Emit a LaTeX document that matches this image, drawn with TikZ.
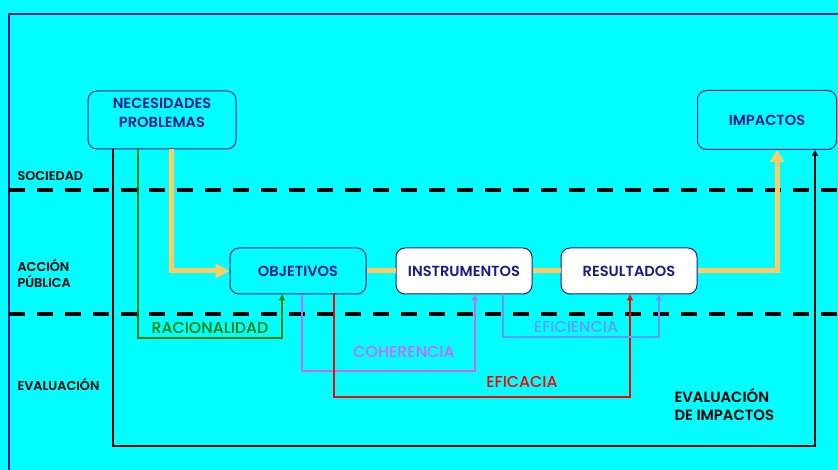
\documentclass[tikz,border=0pt]{standalone}
\usepackage{fontspec}
\setmainfont{Poppins}
\newfontfamily\medfont{Poppins Medium}
\newfontfamily\semifont{Poppins SemiBold}
\usetikzlibrary{arrows.meta,calc}
\definecolor{BackClr}{RGB}{0,255,255}
\definecolor{NavyClr}{RGB}{26,26,140}
\definecolor{FlowClr}{RGB}{255,204,102}
\definecolor{RacClr}{RGB}{0,125,0}
\definecolor{CohClr}{RGB}{204,102,255}
\definecolor{EfcClr}{RGB}{255,0,0}
\definecolor{EfiClr}{RGB}{102,153,255}

\begin{document}
\begin{tikzpicture}[x=1pt,y=-1pt,
  stage/.style={draw=NavyClr,line width=1pt,rounded corners=9pt,fill=BackClr,
    text=NavyClr,font=\semifont\fontsize{14.6}{19}\selectfont,align=center,
    minimum width=136pt,minimum height=46pt,inner sep=0pt},
  level/.style={font=\semifont\fontsize{12.8}{16}\selectfont,anchor=west,align=left},
  border/.style={draw=NavyClr,line width=1.2pt},
  limit/.style={line width=4pt,dash pattern=on 16pt off 12pt},
  flow/.style={draw=FlowClr,line width=5pt},
  loop/.style={line width=2.2pt,-{Triangle[width=6pt,length=6pt]}},
  tag/.style={font=\medfont\fontsize{15.8}{18}\selectfont}]
\useasboundingbox (0,0) rectangle (838,470);
\fill[BackClr] (0,0) rectangle (838,470);
\draw[border] (9,470) -- (9,14) -- (838,14);

% zones
\draw[limit] (9,190) -- (838,190);
\draw[limit] (9,314) -- (838,314);
\node[level] (soc) at (14,176) {SOCIEDAD};
\node[level] (acc) at (14,273) {ACCIÓN\\PÚBLICA};
\node[level] (eva) at (14,384) {EVALUACIÓN};
\node[level,font=\semifont\fontsize{14.8}{18}\selectfont] (evi) at (671,404) {EVALUACIÓN\\DE IMPACTOS};

% boxes
\node[stage,minimum width=148pt,minimum height=58pt,text depth=14pt] (nec) at (162,120) {NECESIDADES\\PROBLEMAS};
\node[stage,minimum width=139pt,minimum height=59pt] (imp) at (767,120) {IMPACTOS};
\node[stage] (obj) at (298,271) {OBJETIVOS};
\node[stage,fill=white] (ins) at (464,271) {INSTRUMENTOS};
\node[stage,fill=white] (res) at (629,271) {RESULTADOS};

% main flow
\draw[flow,-{Triangle[width=14pt,length=14pt]}] (nec.south -| 171,0) |- (obj.west);
\draw[flow] (obj) -- (ins);
\draw[flow] (ins) -- (res);
\draw[flow,-{Triangle[width=14pt,length=12pt]}] (res.east) -| (imp.south -| 777,0);

% evaluation loops
\draw[loop] (nec.south -| 113,0) |- (815,446) -- (imp.south -| 815,0);
\draw[loop,RacClr] (nec.south -| 138,0) |- (282,338) -- (obj.south -| 282,0);
\draw[loop,CohClr] (obj.south -| 302,0) |- (475,371) -- (ins.south -| 475,0);
\draw[loop,EfcClr] (obj.south -| 334,0) |- (630,397) -- (res.south -| 630,0);
\draw[loop,EfiClr] (ins.south -| 503,0) |- (659,337) -- (res.south -| 659,0);

\node[tag,RacClr] (rac) at (210,328) {RACIONALIDAD};
\node[tag,CohClr] (coh) at (404,352) {COHERENCIA};
\node[tag,EfcClr] (efc) at (522,382) {EFICACIA};
\node[tag,EfiClr] (efi) at (576,327) {EFICIENCIA};
\end{tikzpicture}
\end{document}
